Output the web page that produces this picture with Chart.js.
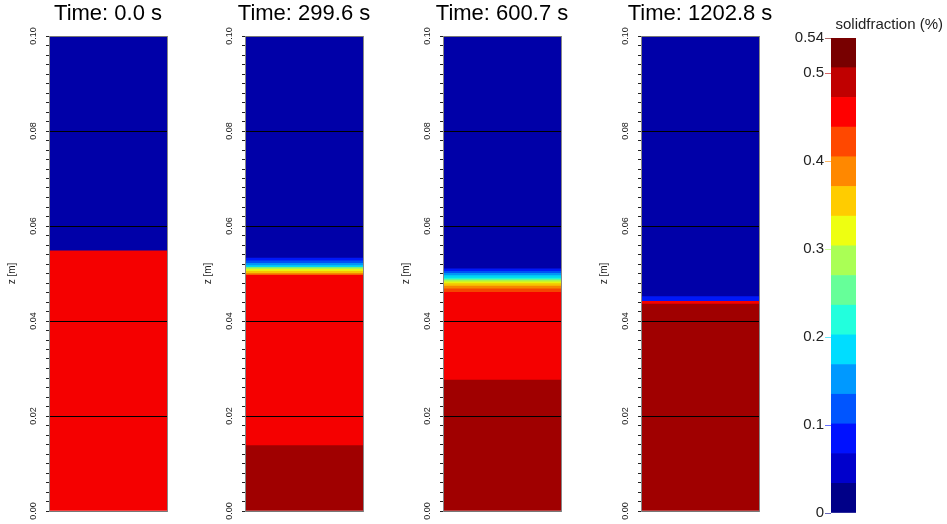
<!DOCTYPE html>
<html>
<head>
<meta charset="utf-8">
<title>Solid fraction profiles</title>
<script src="https://cdn.jsdelivr.net/npm/chart.js@4.4.1/dist/chart.umd.min.js"></script>
<style>
  html, body { margin: 0; padding: 0; background: #fff; }
  #wrap { position: relative; width: 947px; height: 524px; overflow: hidden; }
  #wrap canvas { position: absolute; top: 0; }
</style>
</head>
<body>
<div id="wrap">
  <canvas id="p0" width="216" height="524" style="left:0px"></canvas>
  <canvas id="p1" width="216" height="524" style="left:196px"></canvas>
  <canvas id="p2" width="216" height="524" style="left:394px"></canvas>
  <canvas id="p3" width="216" height="524" style="left:592px"></canvas>
  <canvas id="cbar" width="163" height="524" style="left:780px"></canvas>
</div>
<script>
/* ============================
   DATA
   ============================ */
const TITLES = ["Time: 0.0 s", "Time: 299.6 s", "Time: 600.7 s", "Time: 1202.8 s"];

// layer boundaries z [m] (top -> bottom) and solid fraction of each layer
const Z_T0 = [0.1, 0.0549, 0];
const SF_T0 = [0.05, 0.45];

const Z_T300 = [0.1, 0.0534, 0.0528, 0.0523, 0.0518, 0.0514, 0.0510, 0.0506, 0.0502, 0.0498, 0.0139, 0];
const SF_T300 = [0.05, 0.09, 0.12, 0.16, 0.19, 0.29, 0.32, 0.36, 0.39, 0.45, 0.49];

const Z_T600 = [0.1, 0.0511, 0.0506, 0.0502, 0.0497, 0.0492, 0.0488, 0.0484, 0.0480, 0.0475, 0.0469, 0.0462, 0.0277, 0];
const SF_T600 = [0.05, 0.09, 0.12, 0.16, 0.19, 0.22, 0.28, 0.32, 0.36, 0.39, 0.42, 0.45, 0.49];

const Z_T1200 = [0.1, 0.0453, 0.0443, 0.0437, 0];
const SF_T1200 = [0.05, 0.09, 0.45, 0.49];

// colour legend: discrete levels and labelled ticks
const CB_LEVELS = [0, 0.03375, 0.0675, 0.10125, 0.135, 0.16875, 0.2025, 0.23625, 0.27,
  0.30375, 0.3375, 0.37125, 0.405, 0.43875, 0.4725, 0.50625, 0.54];
const CB_TICKS = [0, 0.1, 0.2, 0.3, 0.4, 0.5, 0.54];

const Z_MAX = 0.1;
const Z_STEP = 0.002;

/* ============================
   COLOURS (bottom band first)
   ============================ */
const BAND_COLORS = ["#000088", "#0000cc", "#0011ff", "#0055ff", "#0099ff", "#00ddff",
  "#22ffdd", "#66ff99", "#aaff55", "#eeff11", "#ffcc00", "#ff8800",
  "#ff4800", "#ff0000", "#c00000", "#780000"];
// same bands as they look on the shaded columns
const SURFACE_COLORS = ["#000070", "#0000a8", "#0018f8", "#0050f5", "#0095f5", "#00d5f5",
  "#22f5d5", "#60f595", "#a5f550", "#e5f510", "#f5c500", "#f58500",
  "#f54500", "#f50000", "#a00000", "#6a0000"];

function bandOf(v) {
  for (let i = 0; i < CB_LEVELS.length - 1; i++) {
    if (v < CB_LEVELS[i + 1]) return i;
  }
  return CB_LEVELS.length - 2;
}

Chart.defaults.font.family = "'Liberation Sans', Arial, sans-serif";
Chart.defaults.color = "#222";

/* ============================
   PROFILE COLUMNS
   ============================ */
function makePanel(id, title, zs, sfs) {
  const datasets = sfs.map((sf, i) => ({
    data: [[zs[i + 1], zs[i]]],
    backgroundColor: SURFACE_COLORS[bandOf(sf)],
    borderWidth: 0,
    barPercentage: 1,
    categoryPercentage: 1,
  }));

  new Chart(document.getElementById(id), {
    type: "bar",
    data: { labels: [""], datasets },
    options: {
      responsive: false,
      animation: false,
      layout: { padding: { top: 0, bottom: 13, left: 0, right: 0 } },
      plugins: {
        legend: { display: false },
        tooltip: { enabled: false },
        title: {
          display: true,
          text: title,
          color: "#000",
          font: { size: 22, weight: "normal" },
          padding: { top: 1, bottom: 8.6 },
        },
      },
      scales: {
        x: { display: false, stacked: true },
        y: {
          min: 0,
          max: Z_MAX,
          afterFit: (s) => { s.width = 49; },
          title: { display: true, text: "z [m]", font: { size: 10 }, padding: { top: 6, bottom: 0 } },
          border: { display: true, color: "#888", width: 1, z: 2 },
          grid: {
            z: 1,
            tickLength: 3,
            color: (ctx) => {
              const v = Math.round(ctx.tick.value * 1000);
              if (v === 0 || v === 100) return "#777";
              return v % 20 === 0 ? "#000" : "rgba(0,0,0,0)";
            },
            tickColor: "#222",
          },
          ticks: {
            stepSize: Z_STEP,
            maxTicksLimit: 60,
            autoSkip: false,
            minRotation: 90,
            maxRotation: 90,
            crossAlign: "center",
            padding: 4,
            font: { size: 9 },
            callback: (v) => (Math.round(v * 1000) % 20 === 0 ? v.toFixed(2) : ""),
          },
        },
        yR: {
          position: "right",
          afterFit: (s) => { s.width = 49; },
          grid: { display: false },
          ticks: { display: false },
          border: { display: true, color: "#888", width: 1, z: 2 },
        },
      },
    },
  });
}

makePanel("p0", TITLES[0], Z_T0, SF_T0);
makePanel("p1", TITLES[1], Z_T300, SF_T300);
makePanel("p2", TITLES[2], Z_T600, SF_T600);
makePanel("p3", TITLES[3], Z_T1200, SF_T1200);

/* ============================
   COLOUR BAR
   ============================ */
new Chart(document.getElementById("cbar"), {
  type: "bar",
  data: {
    labels: [""],
    datasets: BAND_COLORS.map((c, i) => ({
      data: [[CB_LEVELS[i], CB_LEVELS[i + 1]]],
      backgroundColor: c,
      borderWidth: 0,
      barPercentage: 1,
      categoryPercentage: 1,
    })),
  },
  options: {
    responsive: false,
    animation: false,
    layout: { padding: { top: 0, bottom: 11, left: 0, right: 0 } },
    plugins: {
      legend: { display: false },
      tooltip: { enabled: false },
      title: {
        display: true,
        text: "solidfraction (%)",
        align: "end",
        color: "#222",
        font: { size: 15, weight: "normal" },
        padding: { top: 16, bottom: 4 },
      },
    },
    scales: {
      x: { display: false, stacked: true },
      y: {
        min: 0,
        max: CB_LEVELS[CB_LEVELS.length - 1],
        afterBuildTicks: (s) => { s.ticks = CB_TICKS.map((value) => ({ value })); },
        afterFit: (s) => { s.width = 51; },
        border: { display: false },
        grid: {
          drawOnChartArea: false,
          tickLength: 6,
          tickColor: (ctx) => BAND_COLORS[bandOf(ctx.tick.value)] + "99",
        },
        ticks: {
          autoSkip: false,
          padding: 1,
          font: { size: 15 },
          callback: (v) => String(v),
        },
      },
      yR: {
        position: "right",
        afterFit: (s) => { s.width = 87; },
        grid: { display: false },
        ticks: { display: false },
        border: { display: false },
      },
    },
  },
});
</script>
</body>
</html>
